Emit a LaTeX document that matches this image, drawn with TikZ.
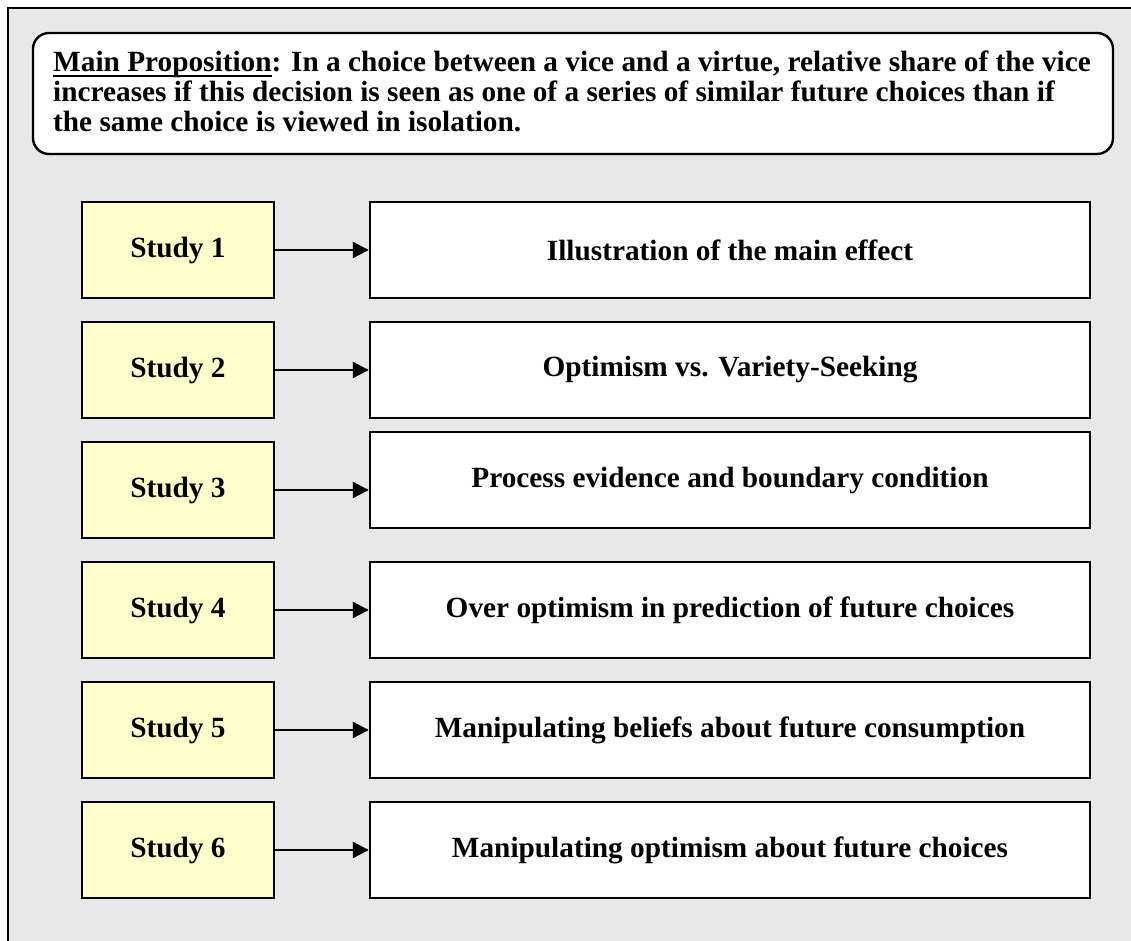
\documentclass[tikz,border=0pt]{standalone}
\usepackage{fontspec}
\setmainfont{Liberation Serif}
\usetikzlibrary{arrows.meta}
\definecolor{bggray}{HTML}{E8E8E8}
\definecolor{studyyellow}{HTML}{FFFFCC}
\newcommand\wordul[1]{\setbox0\hbox{#1}\rlap{\rule[-4.7pt]{\wd0}{2pt}}\box0}
\tikzset{
  studybox/.style={draw, line width=2.4pt, fill=studyyellow, minimum width=192pt, minimum height=96pt, inner sep=0pt},
  resultbox/.style={draw, line width=2.4pt, fill=white, minimum width=720pt, minimum height=96pt, inner sep=0pt},
  propbox/.style={draw, line width=2.4pt, fill=white, rounded corners=16pt, minimum width=1080pt, minimum height=121pt, inner sep=0pt},
  link/.style={line width=2pt, -{Triangle[length=16pt,width=16pt]}}
}
\begin{document}
\begin{tikzpicture}[x=1pt, y=-1pt, font=\fontsize{29.3}{30}\selectfont\bfseries]
\useasboundingbox (0,0) rectangle (1131,941);
\fill[bggray] (8,8) rectangle (1131,941);
\draw[line width=2.4pt] (8,941) -- (8,8) -- (1131,8);

\node[propbox] (prop) at (573,93.5) {};
\node[anchor=base west, inner sep=0pt] (proptext) at (53,72) {\begin{tabular}[t]{@{}l@{}}\wordul{Main Proposition}: In a choice between a vice and a virtue, relative share of the vice\\ increases if this decision is seen as one of a series of similar future choices than if\\ the same choice is viewed in isolation.\end{tabular}};

\node[studybox] (s1) at (178,250) {Study 1};
\node[studybox] (s2) at (178,370) {Study 2};
\node[studybox] (s3) at (178,490) {Study 3};
\node[studybox] (s4) at (178,610) {Study 4};
\node[studybox] (s5) at (178,730) {Study 5};
\node[studybox] (s6) at (178,850) {Study 6};

\node[resultbox] (r1) at (730,250) {Illustration of the main effect};
\node[resultbox] (r2) at (730,370) {Optimism vs. Variety-Seeking};
\node[resultbox] (r3) at (730,480) {Process evidence and boundary condition};
\node[resultbox] (r4) at (730,610) {Over optimism in prediction of future choices};
\node[resultbox] (r5) at (730,730) {Manipulating beliefs about future consumption};
\node[resultbox] (r6) at (730,850) {Manipulating optimism about future choices};

\draw[link] (s1.east) -- (s1.east -| r1.west);
\draw[link] (s2.east) -- (s2.east -| r2.west);
\draw[link] (s3.east) -- (s3.east -| r3.west);
\draw[link] (s4.east) -- (s4.east -| r4.west);
\draw[link] (s5.east) -- (s5.east -| r5.west);
\draw[link] (s6.east) -- (s6.east -| r6.west);
\end{tikzpicture}
\end{document}
